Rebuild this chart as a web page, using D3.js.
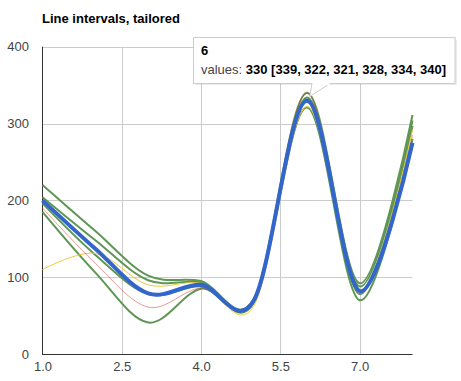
<!DOCTYPE html>
<html><head><meta charset="utf-8">
<script src="https://cdn.jsdelivr.net/npm/d3@7"></script>
<style>
html,body{margin:0;padding:0;background:#fff;}
svg{display:block;font-family:Arial,'Liberation Sans',sans-serif;}
</style></head>
<body><svg id="chart" width="461" height="381"></svg>
<script>
const title = "Line intervals, tailored";
const xValues = [1, 2, 3, 4, 5, 6, 7, 8];
const mainValues = [200, 137, 79, 90, 70, 330, 82, 275];
const intervalI0 = [190, 118, 61, 86, 72, 339, 80, 285];
const intervalI1 = [110, 131, 90, 92, 63, 322, 83, 292];
const intervalI2a = [185, 106, 41, 85, 67, 321, 70, 280];
const intervalI2b = [196, 129, 78, 88, 69, 328, 78, 297];
const intervalI2c = [204, 148, 96, 93, 70, 334, 88, 304];
const intervalI2d = [220, 160, 102, 95, 72, 340, 92, 311];
const xTicks = [1.0, 2.5, 4.0, 5.5, 7.0];
const yTicks = [0, 100, 200, 300, 400];
const tooltipIndex = 5;

const svg = d3.select("#chart");
const x = d3.scaleLinear().domain([1, 8]).range([42.5, 412.5]);
const y = d3.scaleLinear().domain([0, 400]).range([354, 46.7]);

svg.append("text").attr("x", 42).attr("y", 22.5)
  .attr("font-size", 13).attr("font-weight", "bold").attr("fill", "#000").text(title);

// gridlines
const grid = svg.append("g");
grid.selectAll("line.h").data(yTicks.filter(d => d > 0)).join("line")
  .attr("x1", x(1)).attr("x2", x(8))
  .attr("y1", d => Math.round(y(d)) + 0.5).attr("y2", d => Math.round(y(d)) + 0.5)
  .attr("stroke", "#cccccc").attr("stroke-width", 1);
grid.selectAll("line.v").data(xTicks.filter(d => d > 1)).join("line")
  .attr("x1", d => Math.round(x(d)) + 0.5).attr("x2", d => Math.round(x(d)) + 0.5)
  .attr("y1", y(400)).attr("y2", y(0))
  .attr("stroke", "#cccccc").attr("stroke-width", 1);

// axes labels via d3 axes
const yAxis = d3.axisLeft(y).tickValues(yTicks).tickSize(0).tickPadding(0).tickFormat(d3.format("d"));
const gy = svg.append("g").attr("transform", "translate(29,0)").call(yAxis);
gy.select(".domain").remove();
gy.selectAll("text").attr("font-size", 13).attr("fill", "#444").attr("font-family", "Arial,'Liberation Sans',sans-serif");

const xAxis = d3.axisBottom(x).tickValues(xTicks).tickSize(0).tickPadding(0).tickFormat(d3.format(".1f"));
const gx = svg.append("g").attr("transform", "translate(0,362)").call(xAxis);
gx.select(".domain").remove();
gx.selectAll("text").attr("font-size", 13).attr("fill", "#444").attr("font-family", "Arial,'Liberation Sans',sans-serif");

// baselines
svg.append("line").attr("x1", 42.5).attr("x2", 42.5).attr("y1", y(400)).attr("y2", y(0) + 0.5)
  .attr("stroke", "#333").attr("stroke-width", 1);
svg.append("line").attr("x1", 42).attr("x2", x(8)).attr("y1", 354.5).attr("y2", 354.5)
  .attr("stroke", "#333").attr("stroke-width", 1);

const line = d3.line().x((d, i) => x(xValues[i])).y(d => y(d)).curve(d3.curveCardinal.tension(0));
const plot = svg.append("g");
const intervals = [
  {vals: intervalI2a, color: "#5F9654", w: 2},
  {vals: intervalI2b, color: "#5F9654", w: 2},
  {vals: intervalI2c, color: "#5F9654", w: 2},
  {vals: intervalI2d, color: "#5F9654", w: 2},
  {vals: intervalI1, color: "#F1CA3A", w: 1},
  {vals: intervalI0, color: "#D3362D", w: 0.5}
];
plot.selectAll("path.iv").data(intervals).join("path")
  .attr("d", d => line(d.vals)).attr("fill", "none")
  .attr("stroke", d => d.color).attr("stroke-width", d => d.w);
plot.append("path").attr("d", line(mainValues)).attr("fill", "none")
  .attr("stroke", "#3366CC").attr("stroke-width", 4);

// tooltip
const tip = svg.append("g");
const px = x(xValues[tooltipIndex]), py = y(mainValues[tooltipIndex]);
tip.append("rect").attr("x", 195).attr("y", 39.5).attr("width", 262).attr("height", 45.5)
  .attr("fill", "#000").attr("opacity", 0.08);
tip.append("path").attr("d", `M312,83.5 L${px + 3},${py - 4} L330,83.5`)
  .attr("fill", "#fff").attr("stroke", "#cccccc").attr("stroke-width", 1);
tip.append("rect").attr("x", 193.5).attr("y", 37.5).attr("width", 261.5).attr("height", 46)
  .attr("fill", "#fff").attr("stroke", "#cccccc").attr("stroke-width", 1);
tip.append("rect").attr("x", 312.5).attr("y", 82).attr("width", 17).attr("height", 3).attr("fill", "#fff");
tip.append("text").attr("x", 201).attr("y", 55).attr("font-size", 13).attr("font-weight", "bold").attr("fill", "#000")
  .text(String(xValues[tooltipIndex]));
const t2 = tip.append("text").attr("x", 201).attr("y", 74).attr("font-size", 13);
t2.append("tspan").attr("fill", "#444").text("values: ");
const ivs = [intervalI0, intervalI1, intervalI2a, intervalI2b, intervalI2c, intervalI2d].map(a => a[tooltipIndex]);
t2.append("tspan").attr("fill", "#000").attr("font-weight", "bold")
  .text(`${mainValues[tooltipIndex]} [${ivs.join(", ")}]`);
</script></body></html>
